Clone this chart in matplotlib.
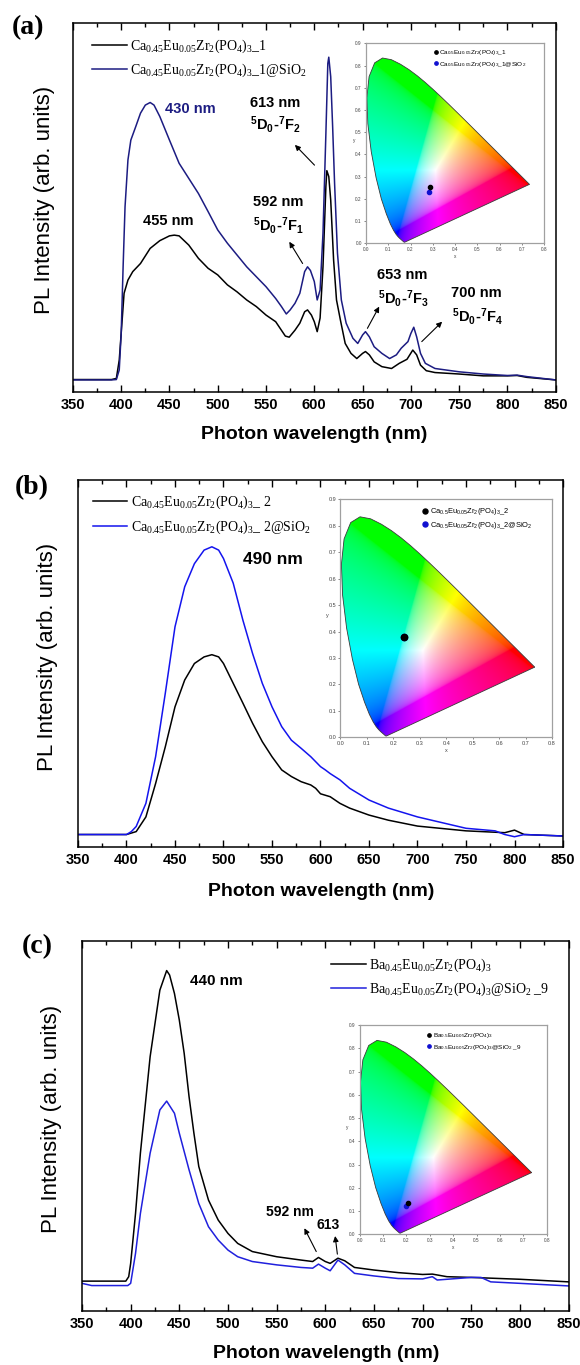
import numpy as np
import matplotlib
matplotlib.use("Agg")
import matplotlib.pyplot as plt
from matplotlib.patches import Polygon
from matplotlib.ticker import MultipleLocator, NullLocator

plt.rcParams['font.family'] = ['Liberation Sans', 'DejaVu Sans']
plt.rcParams['mathtext.default'] = 'regular'

# ---------------- spectra (wavelength in nm, intensity in arb. units) ----------------
a_wl_black = [350, 390, 395, 398, 400, 403, 407, 412, 420, 430, 440, 450, 455, 460, 470,
              480, 490, 500, 510, 520, 530, 540, 550, 560, 570, 574, 580, 585, 590, 593,
              597, 600, 603, 606, 609, 612, 613, 615, 617, 620, 623, 627, 632, 638, 644,
              650, 653, 657, 662, 670, 680, 688, 696, 702, 706, 710, 716, 725, 750, 775,
              800, 810, 820, 850]
a_int_black = [3.3, 3.3, 3.6, 8.6, 15.8, 26.7, 30.3, 32.6, 34.8, 38.9, 41.0, 42.3, 42.5, 42.3, 39.8,
               36.2, 33.5, 31.7, 29.0, 27.1, 24.9, 23.1, 20.8, 19.0, 15.1, 14.8, 16.7, 18.6, 21.7, 22.2,
               20.8, 19.0, 16.3, 20.0, 33.9, 55.7, 60.0, 58.4, 52.0, 35.7, 24.9, 19.5, 13.1, 10.4, 9.0,
               10.4, 10.9, 10.0, 8.1, 6.8, 6.3, 7.7, 8.8, 11.3, 10.0, 7.2, 5.7, 5.2, 4.8, 4.3,
               4.3, 4.4, 3.9, 3.2]
a_wl_blue = [350, 390, 395, 398, 400, 402, 404, 407, 410, 415, 420, 425, 430, 434, 440,
             445, 450, 460, 470, 480, 490, 500, 510, 520, 530, 540, 550, 560, 566, 571,
             575, 580, 585, 590, 593, 596, 600, 603, 606, 609, 612, 614, 615, 617, 619,
             621, 624, 628, 633, 640, 645, 650, 653, 657, 662, 670, 678, 685, 690, 697,
             700, 703, 706, 710, 715, 725, 750, 775, 800, 810, 820, 850]
a_int_blue = [3.2, 3.2, 3.3, 5.9, 15.8, 33.9, 50.2, 62.9, 68.3, 71.9, 75.6, 77.8, 78.5, 77.8, 74.7,
              71.5, 68.3, 62.0, 57.9, 53.8, 48.9, 43.9, 40.3, 37.1, 33.9, 31.2, 28.5, 25.3, 23.1, 21.1,
              22.2, 24.0, 26.7, 32.6, 33.9, 32.9, 29.9, 24.9, 27.6, 43.0, 70.1, 89.1, 90.8, 85.5, 71.9,
              56.6, 37.6, 24.9, 18.6, 14.5, 13.1, 15.4, 16.3, 14.9, 12.2, 10.4, 9.0, 10.0, 11.8, 13.6,
              15.8, 17.5, 14.9, 10.4, 7.7, 6.3, 5.4, 4.8, 4.4, 4.5, 4.1, 3.2]

b_wl_black = [350, 400, 410, 420, 430, 440, 450, 460, 470, 480, 488, 495, 500, 510, 520,
              530, 540, 550, 560, 570, 580, 590, 595, 600, 610, 620, 630, 650, 670, 700,
              750, 790, 800, 810, 850]
b_int_black = [3.4, 3.4, 4.2, 8.2, 17.3, 27.3, 38.2, 45.5, 50.0, 51.8, 52.4, 51.8, 50.0, 44.6, 39.2,
               33.7, 28.7, 24.6, 21.0, 19.2, 17.8, 16.9, 16.0, 14.5, 13.7, 11.9, 10.6, 8.7, 7.3, 5.7,
               4.4, 3.9, 4.6, 3.4, 3.0]
b_wl_blue = [350, 400, 405, 410, 420, 430, 440, 450, 460, 470, 480, 488, 495, 500, 510,
             520, 530, 540, 550, 560, 570, 580, 590, 600, 605, 610, 620, 630, 650, 670,
             700, 750, 780, 790, 800, 810, 850]
b_int_blue = [3.4, 3.4, 4.2, 5.6, 11.9, 24.6, 41.9, 60.0, 70.9, 77.2, 80.9, 81.8, 80.9, 78.6, 71.9,
              61.8, 52.7, 44.6, 38.2, 32.8, 29.1, 26.9, 24.6, 21.9, 21.0, 20.0, 18.3, 16.0, 12.8, 10.6,
              8.2, 5.1, 4.4, 3.4, 2.8, 3.4, 3.0]

c_wl_black = [350, 395, 398, 400, 405, 410, 420, 430, 437, 440, 445, 450, 455, 460, 465,
              470, 480, 490, 500, 510, 525, 550, 575, 587, 593, 600, 605, 613, 620, 630,
              650, 675, 700, 710, 725, 750, 800, 850]
c_int_black = [8.0, 8.0, 9.2, 12.8, 26.3, 42.6, 68.7, 86.7, 92.0, 90.8, 85.8, 78.6, 69.6, 57.9, 48.0,
               39.0, 29.9, 24.5, 20.9, 18.2, 16.0, 14.6, 13.7, 13.3, 14.4, 13.3, 12.8, 14.2, 13.5, 11.7,
               11.0, 10.3, 9.8, 9.9, 9.2, 9.0, 8.5, 7.8]
c_wl_blue = [350, 360, 397, 400, 405, 410, 420, 430, 437, 445, 450, 460, 470, 480, 490,
             500, 510, 525, 550, 575, 587, 593, 600, 605, 613, 620, 630, 650, 675, 700,
             710, 715, 725, 750, 760, 770, 800, 850]
c_int_blue = [7.4, 6.8, 6.8, 7.4, 15.5, 26.3, 42.6, 54.3, 56.7, 53.4, 48.0, 38.1, 29.0, 22.7, 19.1,
              16.4, 14.6, 13.3, 12.4, 11.7, 11.5, 12.6, 11.5, 10.8, 13.7, 12.4, 10.1, 9.4, 8.7, 8.6,
              9.2, 8.3, 8.5, 9.0, 9.0, 7.8, 7.4, 6.7]

# legend labels
a_labels = ['Ca$_{0.45}$Eu$_{0.05}$Zr$_2$(PO$_4$)$_3$_1',
            'Ca$_{0.45}$Eu$_{0.05}$Zr$_2$(PO$_4$)$_3$_1@SiO$_2$']
b_labels = ['Ca$_{0.45}$Eu$_{0.05}$Zr$_2$(PO$_4$)$_3$_ 2',
            'Ca$_{0.45}$Eu$_{0.05}$Zr$_2$(PO$_4$)$_3$_ 2@SiO$_2$']
c_labels = ['Ba$_{0.45}$Eu$_{0.05}$Zr$_2$(PO$_4$)$_3$',
            'Ba$_{0.45}$Eu$_{0.05}$Zr$_2$(PO$_4$)$_3$@SiO$_2$ _9']

# ---------------- CIE 1931 chromaticity ----------------
cie_wl = [380, 400, 410, 420, 430, 440, 450, 455, 460, 465, 470, 475, 480, 485, 490, 495,
          500, 505, 510, 515, 520, 525, 530, 535, 540, 545, 550, 555, 560, 565, 570, 575,
          580, 585, 590, 595, 600, 605, 610, 620, 630, 640, 650, 660, 680, 700]
cie_x = [0.1741, 0.1733, 0.1726, 0.1714, 0.1689, 0.1644, 0.1566, 0.1510, 0.1440, 0.1355, 0.1241,
         0.1096, 0.0913, 0.0687, 0.0454, 0.0235, 0.0082, 0.0039, 0.0139, 0.0389, 0.0743, 0.1142,
         0.1547, 0.1929, 0.2296, 0.2658, 0.3016, 0.3373, 0.3731, 0.4087, 0.4441, 0.4788, 0.5125,
         0.5448, 0.5752, 0.6029, 0.6270, 0.6482, 0.6658, 0.6915, 0.7079, 0.7190, 0.7260, 0.7300,
         0.7334, 0.7347]
cie_y = [0.0050, 0.0048, 0.0048, 0.0051, 0.0069, 0.0109, 0.0177, 0.0227, 0.0297, 0.0399, 0.0578,
         0.0868, 0.1327, 0.2007, 0.2950, 0.4127, 0.5384, 0.6548, 0.7502, 0.8120, 0.8338, 0.8262,
         0.8059, 0.7816, 0.7543, 0.7243, 0.6923, 0.6589, 0.6245, 0.5896, 0.5547, 0.5202, 0.4866,
         0.4544, 0.4242, 0.3965, 0.3725, 0.3514, 0.3340, 0.3083, 0.2920, 0.2809, 0.2740, 0.2700,
         0.2666, 0.2653]

a_cie_x = [0.288, 0.285]
a_cie_y = [0.255, 0.230]
a_cie_labels = ['Ca$_{0.5}$Eu$_{0.05}$Zr$_2$(PO$_4$)$_3$_1',
                'Ca$_{0.5}$Eu$_{0.05}$Zr$_2$(PO$_4$)$_3$_1@SiO$_2$']
b_cie_x = [0.242, 0.242]
b_cie_y = [0.379, 0.379]
b_cie_labels = ['Ca$_{0.5}$Eu$_{0.05}$Zr$_2$(PO$_4$)$_3$_2',
                'Ca$_{0.5}$Eu$_{0.05}$Zr$_2$(PO$_4$)$_3$_2@SiO$_2$']
c_cie_x = [0.205, 0.197]
c_cie_y = [0.133, 0.121]
c_cie_labels = ['Ba$_{0.5}$Eu$_{0.05}$Zr$_2$(PO$_4$)$_3$',
                'Ba$_{0.5}$Eu$_{0.05}$Zr$_2$(PO$_4$)$_3$@SiO$_2$ _9']

W, H = 580, 1365
fig = plt.figure(figsize=(W / 100, H / 100), dpi=100)


def px_axes(l, t, r, b):
    return fig.add_axes([l / W, 1 - b / H, (r - l) / W, (b - t) / H])


def style_main(ax, ylab_xy, xlab_xy):
    ax.set_xlim(350, 850)
    ax.set_ylim(0, 100)
    ax.xaxis.set_major_locator(MultipleLocator(50))
    ax.xaxis.set_minor_locator(MultipleLocator(25))
    ax.yaxis.set_major_locator(NullLocator())
    ax.tick_params(axis='x', which='both', direction='in', top=True, bottom=True, width=1)
    ax.tick_params(axis='x', which='major', length=5, labelsize=10.5, pad=4.5)
    ax.tick_params(axis='x', which='minor', length=3)
    for lab in ax.get_xticklabels():
        lab.set_fontweight('bold')
    for s in ax.spines.values():
        s.set_linewidth(1.1)
    ax.set_xlabel('Photon wavelength (nm)', fontsize=14, fontweight='bold')
    ax.xaxis.set_label_coords(*xlab_xy)
    ax.xaxis.label.set_va('center')
    ax.set_ylabel('PL Intensity (arb. units)', fontsize=16)
    ax.yaxis.set_label_coords(*ylab_xy)
    ax.yaxis.label.set_va('center')


def main_legend(ax, anchor, fs=10):
    ax.legend(loc='upper left', bbox_to_anchor=anchor, frameon=False,
              prop={'family': 'Liberation Serif', 'size': fs},
              handlelength=2.5, handletextpad=0.25, labelspacing=0.5,
              borderpad=0, borderaxespad=0)


def cie_inset(rect, px, py, labels, anchor, fs, tfs, ms):
    ax = px_axes(*rect)
    gx, gy = np.meshgrid(np.linspace(0, 0.8, 400), np.linspace(0.001, 0.9, 450))
    X = gx / gy
    Y = np.ones_like(gx)
    Z = (1 - gx - gy) / gy
    r = 3.2406 * X - 1.5372 * Y - 0.4986 * Z
    g = -0.9689 * X + 1.8758 * Y + 0.0415 * Z
    b = 0.0557 * X - 0.2040 * Y + 1.0570 * Z
    rgb = np.clip(np.dstack([r, g, b]), 0, None)
    rgb = rgb / (rgb.max(axis=2, keepdims=True) + 1e-9)
    rgb = rgb ** (1 / 2.6)
    im = ax.imshow(rgb, origin='lower', extent=(0, 0.8, 0, 0.9), aspect='auto',
                   interpolation='bilinear', zorder=1)
    locus = Polygon(np.column_stack([cie_x, cie_y]), closed=True, fc='none',
                    ec='#3a3a3a', lw=0.6, zorder=2)
    ax.add_patch(locus)
    im.set_clip_path(locus)
    ax.plot(px[1], py[1], 'o', color='#1010d0', ms=ms, label=labels[1], zorder=3)
    ax.plot(px[0], py[0], 'o', color='black', ms=ms, label=labels[0], zorder=4)
    h, l = ax.get_legend_handles_labels()
    ax.legend(h[::-1], l[::-1], loc='upper left', bbox_to_anchor=anchor, frameon=False,
              prop={'size': fs}, handlelength=0.6, handletextpad=0.3, labelspacing=0.35,
              borderpad=0, borderaxespad=0, markerscale=0.8)
    ax.set_xlim(0, 0.8)
    ax.set_ylim(0, 0.9)
    ax.set_xticks(np.arange(0, 0.81, 0.1))
    ax.set_yticks(np.arange(0, 0.91, 0.1))
    ax.set_xticklabels(['%.1f' % v for v in np.arange(0, 0.81, 0.1)])
    ax.set_yticklabels(['%.1f' % v for v in np.arange(0, 0.91, 0.1)])
    ax.tick_params(labelsize=tfs, length=1.5, width=0.5, pad=1.5, colors='#555555',
                   labelcolor='#444444')
    ax.set_xlabel('x', fontsize=tfs, labelpad=1, color='#444444')
    ax.set_ylabel('y', fontsize=tfs, labelpad=1, color='#444444', rotation=0)
    for s in ax.spines.values():
        s.set_color('#a0a0a0')
        s.set_linewidth(0.9)
    return ax


arrow = dict(arrowstyle='-|>', color='black', lw=0.8, mutation_scale=8, shrinkA=0, shrinkB=0)
lbl = dict(fontsize=10.5, fontweight='bold', ha='center', va='center')
navy = '#1c1c82'

# ---------------- (a) ----------------
ax_a = px_axes(72.9, 23.3, 555.7, 391.7)
ax_a.plot(a_wl_black, a_int_black, color='black', lw=1.1, label=a_labels[0])
ax_a.plot(a_wl_blue, a_int_blue, color=navy, lw=1.1, label=a_labels[1])
style_main(ax_a, (-0.059, 0.52), (0.5, -0.1175))
main_legend(ax_a, (0.04, 0.962))
ax_a.text(445, 76.7, '430 nm', color=navy, fontsize=10.5, fontweight='bold', ha='left', va='center')
ax_a.text(449, 46.2, '455 nm', **lbl)
ax_a.text(559, 78.3, '613 nm', **lbl)
ax_a.text(560, 72.4, '$^5$D$_0$-$^7$F$_2$', **lbl)
ax_a.text(562.6, 51.4, '592 nm', **lbl)
ax_a.text(563, 45.2, '$^5$D$_0$-$^7$F$_1$', **lbl)
ax_a.text(691, 31.7, '653 nm', **lbl)
ax_a.text(692, 25.3, '$^5$D$_0$-$^7$F$_3$', **lbl)
ax_a.text(767.6, 26.7, '700 nm', **lbl)
ax_a.text(769, 20.4, '$^5$D$_0$-$^7$F$_4$', **lbl)
ax_a.annotate('', xy=(579.9, 67.0), xytext=(600.2, 61.5), arrowprops=arrow)
ax_a.annotate('', xy=(574.1, 40.7), xytext=(587.9, 34.8), arrowprops=arrow)
ax_a.annotate('', xy=(667.2, 23.1), xytext=(655.0, 17.2), arrowprops=arrow)
ax_a.annotate('', xy=(732.4, 19.0), xytext=(711.3, 13.6), arrowprops=arrow)
fig.text(28 / W, 1 - 28 / H, '(a)', family='Liberation Serif', fontweight='bold',
         fontsize=20, ha='center', va='center')
cie_inset((366, 43.3, 544, 243.3), a_cie_x, a_cie_y, a_cie_labels, (0.38, 0.975), 4.6, 3.4, 3)

# ---------------- (b) ----------------
ax_b = px_axes(78, 480, 563, 847)
ax_b.plot(b_wl_black, b_int_black, color='black', lw=1.1, label=b_labels[0])
ax_b.plot(b_wl_blue, b_int_blue, color='#1414ee', lw=1.1, label=b_labels[1])
style_main(ax_b, (-0.062, 0.519), (0.501, -0.1226))
main_legend(ax_b, (0.03, 0.962))
ax_b.text(551.4, 78.4, '490 nm', fontsize=12.5, fontweight='bold', ha='center', va='center')
fig.text(31.5 / W, 1 - 488 / H, '(b)', family='Liberation Serif', fontweight='bold',
         fontsize=20, ha='center', va='center')
cie_inset((340.4, 499.3, 552, 737.3), b_cie_x, b_cie_y, b_cie_labels, (0.39, 0.97), 5.4, 4, 4.5)

# ---------------- (c) ----------------
ax_c = px_axes(82, 941, 568.6, 1310.7)
ax_c.plot(c_wl_black, c_int_black, color='black', lw=1.1, label=c_labels[0])
ax_c.plot(c_wl_blue, c_int_blue, color='#2020dd', lw=1.1, label=c_labels[1])
style_main(ax_c, (-0.062, 0.519), (0.501, -0.115))
main_legend(ax_c, (0.512, 0.958))
ax_c.text(488, 89.3, '440 nm', fontsize=11, fontweight='bold', ha='center', va='center')
ax_c.text(563.7, 26.8, '592 nm', fontsize=10, fontweight='bold', ha='center', va='center')
ax_c.text(602.5, 23.2, '613', fontsize=10, fontweight='bold', ha='center', va='center')
ax_c.annotate('', xy=(578.5, 22.3), xytext=(590.7, 16.0), arrowprops=arrow)
ax_c.annotate('', xy=(610.1, 20.2), xytext=(612.4, 15.3), arrowprops=arrow)
fig.text(37 / W, 1 - 946.7 / H, '(c)', family='Liberation Serif', fontweight='bold',
         fontsize=20, ha='center', va='center')
cie_inset((359.6, 1025, 546.9, 1234.3), c_cie_x, c_cie_y, c_cie_labels, (0.36, 0.97), 4.6, 3.4, 3)

fig.savefig('out.png', dpi=100)
